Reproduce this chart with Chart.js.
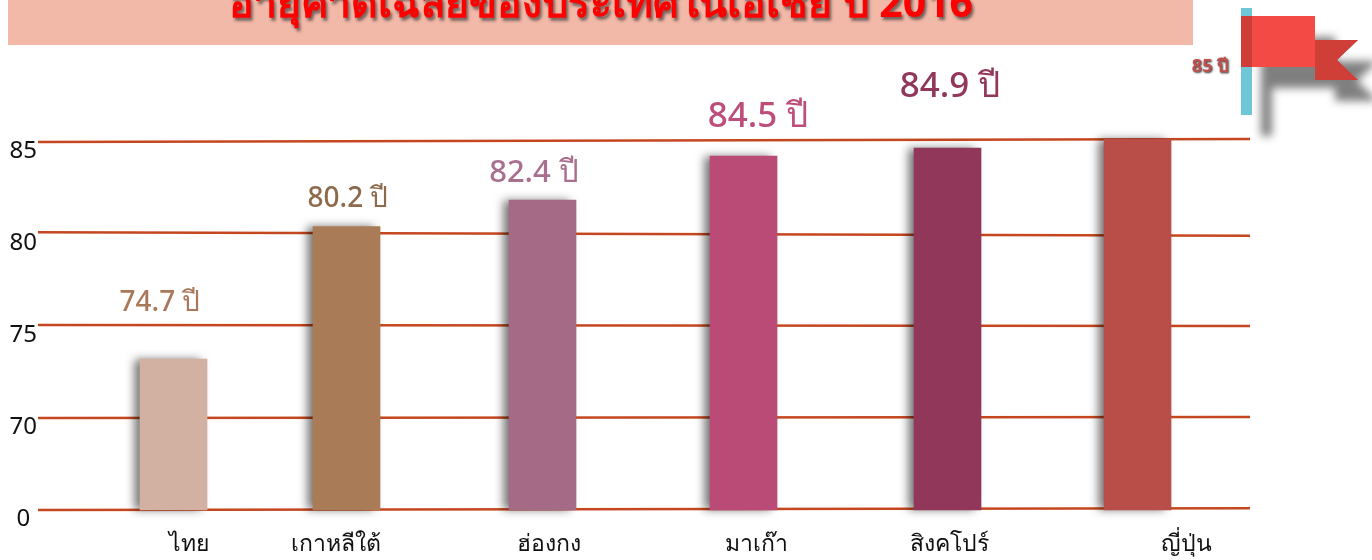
<!DOCTYPE html>
<html lang="th">
<head>
<meta charset="utf-8">
<title>อายุคาดเฉลี่ยของประเทศในเอเชีย ปี 2016</title>
<style>
html,body{margin:0;padding:0;background:#fff;overflow:hidden}
#wrap{position:relative;width:1372px;height:560px}
canvas{display:block}
</style>
<script src="https://cdn.jsdelivr.net/npm/chart.js@4/dist/chart.umd.min.js"></script>
</head>
<body>
<div id="wrap"><canvas id="c" width="1372" height="560"></canvas></div>
<script>
// --- data ---
const titleText = 'อายุคาดเฉลี่ยของประเทศในเอเชีย ปี 2016';
const categories = ['ไทย','เกาหลีใต้','ฮ่องกง','มาเก๊า','สิงคโปร์','ญี่ปุ่น'];
const barHeights = [73.2, 80.4, 81.85, 84.24, 84.67, 85.16];
const valueLabels = ['74.7 ปี','80.2 ปี','82.4 ปี','84.5 ปี','84.9 ปี'];
const flagLabel = '85 ปี';
const yTickValues = [65,70,75,80,85];
const yTickLabels = ['0','70','75','80','85'];
const ruleStart = [65, 70, 75.05, 80.1, 85];
const ruleEnd   = [65.1, 70.05, 75, 79.9, 85.16];

// --- styling ---
const barColors = ['#D2B1A2','#A97C57','#A56B86','#BA4B76','#91375A','#B94E48'];
const labelColors = ['#A9785B','#8C6A4B','#A96F8E','#BD4E7B','#91375A'];
const labelFonts = [28,28,31,35,35];
const labelAnchors = [[160,303],[348,199],[534,173],[758,117],[950,87]];
const barCenters = [173.5,346.5,542.5,743.5,947.5,1137.5];
const tickCenters = [189,336,549,756,949,1186];
const thaiFont = '"Noto Sans","Open Sans",sans-serif';
const ruleColor = '#C4471F';

class UnevenCategory extends Chart.CategoryScale {
  getPixelForValue(value){
    const i = typeof value === 'number' ? value : this.parse(value);
    return this.options.centers[i];
  }
}
UnevenCategory.id = 'unevenCategory';
UnevenCategory.defaults = Chart.CategoryScale.defaults;
Chart.register(UnevenCategory);

const ruleSets = yTickValues.map((v,i)=>({
  type:'line', xAxisID:'xRule', yAxisID:'y', order:2, clip:false,
  data:[{x:0,y:ruleStart[i]},{x:1,y:ruleEnd[i]}],
  borderColor:ruleColor, borderWidth:2.5, pointRadius:0, tension:0
}));

const barShadow = {
  id:'barShadow',
  beforeDatasetDraw(chart,args){
    if(args.meta.type!=='bar')return;
    const c=chart.ctx;c.save();
    c.shadowColor='rgba(0,0,0,0.55)';c.shadowBlur=9;c.shadowOffsetX=-6;c.shadowOffsetY=0;
  },
  afterDatasetDraw(chart,args){
    if(args.meta.type!=='bar')return;
    chart.ctx.restore();
  }
};

function tailPath(c){
  const pts=[[1315,40],[1358,40],[1337,60],[1358,80],[1315,80]];
  pts.forEach((p,i)=>i?c.lineTo(p[0],p[1]):c.moveTo(p[0],p[1]));
  c.closePath();
}

function drawFlag(c){
  c.fillStyle='#6EC6D6';c.fillRect(1241,8,11,107);
  c.fillStyle='#CF3F38';c.beginPath();tailPath(c);c.fill();
  c.fillStyle='#F44A45';c.fillRect(1241,16,74,51);
  c.fillStyle='#CE3D36';c.fillRect(1241,16,11,51);
}

const decorations = {
  id:'decorations',
  beforeDraw(chart){
    const c=chart.ctx;
    c.save();
    c.fillStyle='#F3B9A8';c.fillRect(8,0,1185,45);
    c.restore();
  },
  afterDraw(chart){
    const c=chart.ctx;
    // title
    c.save();
    c.font='bold 41px '+thaiFont;c.textAlign='center';c.textBaseline='alphabetic';
    c.shadowColor='rgba(60,60,60,0.7)';c.shadowBlur=3;c.shadowOffsetX=2;c.shadowOffsetY=3;
    c.fillStyle='#FF0000';c.fillText(titleText,601,17);
    c.restore();
    // value labels
    valueLabels.forEach((t,i)=>{
      c.save();
      c.font='500 '+labelFonts[i]+'px '+thaiFont;c.textAlign='center';c.textBaseline='middle';
      c.fillStyle=labelColors[i];c.fillText(t,labelAnchors[i][0],labelAnchors[i][1]);
      c.restore();
    });
    // one shared flag silhouette for the shadow, then the flag on top
    c.save();
    c.shadowColor='rgba(0,0,0,0.5)';c.shadowBlur=9;c.shadowOffsetX=20;c.shadowOffsetY=21;
    c.fillStyle='#888';
    c.beginPath();
    c.rect(1241,8,11,107);c.rect(1241,16,74,51);tailPath(c);
    c.fill();
    c.restore();
    drawFlag(c);
    // flag label
    c.save();
    c.font='bold 18px '+thaiFont;c.textAlign='center';c.textBaseline='middle';
    c.shadowColor='rgba(0,0,0,0.8)';c.shadowBlur=2;c.shadowOffsetX=1;c.shadowOffsetY=1;
    c.fillStyle='#C0504D';c.fillText(flagLabel,1210,67);
    c.restore();
  }
};

new Chart(document.getElementById('c'),{
  type:'bar',
  data:{
    labels:categories,
    datasets:[
      {type:'bar',xAxisID:'x',yAxisID:'y',order:1,clip:false,data:barHeights,base:65,grouped:false,
       backgroundColor:barColors,barPercentage:1,categoryPercentage:1,maxBarThickness:67,borderWidth:0},
      ...ruleSets
    ]
  },
  options:{
    responsive:false,animation:false,
    layout:{padding:{left:0,right:122,top:50,bottom:0}},
    plugins:{legend:{display:false},tooltip:{enabled:false},title:{display:false}},
    scales:{
      x:{type:'unevenCategory',centers:barCenters,display:false,grid:{display:false}},
      xTicks:{type:'unevenCategory',centers:tickCenters,position:'bottom',
        grid:{display:false,drawTicks:false},border:{display:false},
        afterFit(s){s.height=50;s.paddingLeft=0;s.paddingRight=0;},
        ticks:{color:'#111',padding:21,autoSkip:false,maxRotation:0,
               font:{family:thaiFont,size:23,weight:'500'}}},
      xRule:{type:'linear',min:0,max:1,display:false,offset:false,grid:{offset:false}},
      y:{type:'linear',min:65,max:90,position:'left',
        grid:{display:false,drawTicks:false},border:{display:false},
        afterBuildTicks(s){s.ticks=yTickValues.map(v=>({value:v}));},
        afterFit(s){s.width=38;s.paddingTop=0;s.paddingBottom=0;},
        ticks:{color:'#111',padding:1,labelOffset:9,crossAlign:'center',
               font:{family:thaiFont,size:24},
               callback(v){return yTickLabels[yTickValues.indexOf(v)];}}}
    }
  },
  plugins:[barShadow,decorations]
});
</script>
</body>
</html>
